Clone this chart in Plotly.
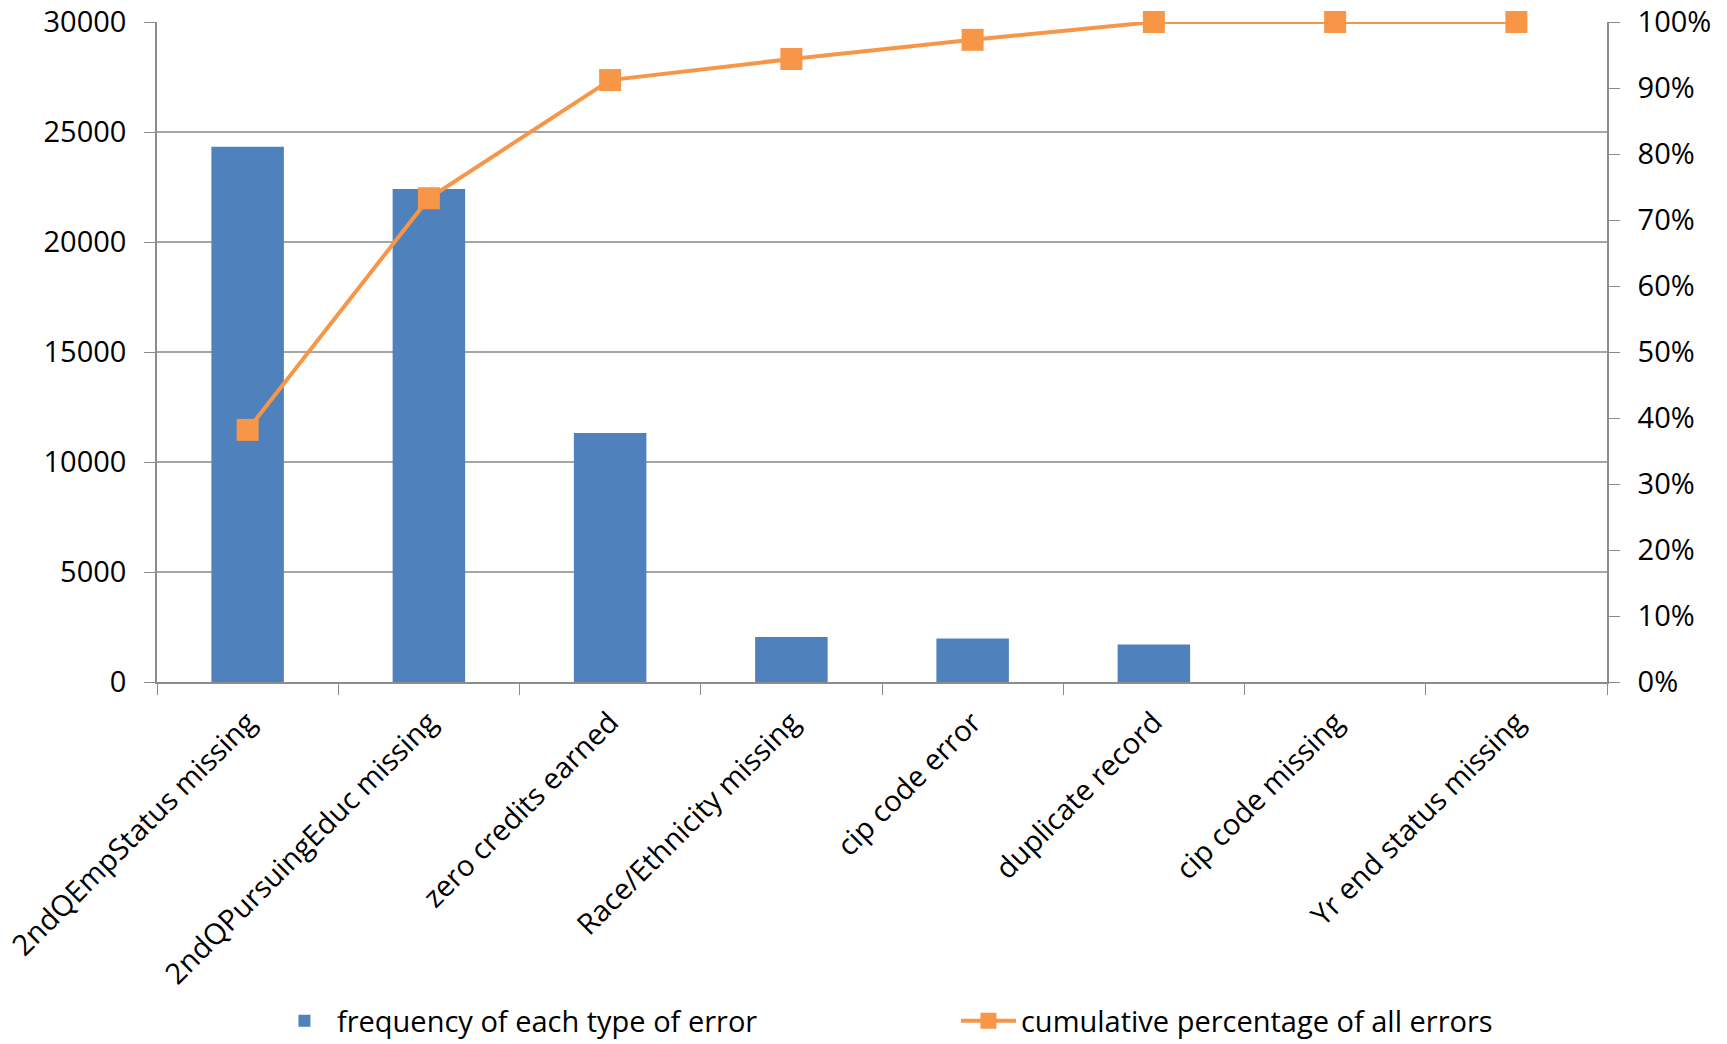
import plotly.graph_objects as go

categories = ["2ndQEmpStatus missing", "2ndQPursuingEduc missing", "zero credits earned",
              "Race/Ethnicity missing", "cip code error", "duplicate record",
              "cip code missing", "Yr end status missing"]
frequency = [24330, 22410, 11320, 2050, 1980, 1710, 0, 0]
cumulative_pct = [38.2, 73.3, 91.2, 94.4, 97.3, 100, 100, 100]

left_ticks = [0, 5000, 10000, 15000, 20000, 25000, 30000]
left_labels = ["0", "5000", "10000", "15000", "20000", "25000", "30000"]
right_ticks = [0, 10, 20, 30, 40, 50, 60, 70, 80, 90, 100]
right_labels = ["0%", "10%", "20%", "30%", "40%", "50%", "60%", "70%", "80%", "90%", "100%"]

BLUE = "#4F81BD"
ORANGE = "#F79646"
GRID = "#A6A6A6"
AXIS = "#8C8C8C"
FONT = "Open Sans"
FS = 29

fig = go.Figure()
fig.add_trace(go.Bar(
    x=categories, y=frequency, name="frequency of each type of error",
    marker=dict(color=BLUE, line=dict(width=0)), yaxis="y"))
fig.add_trace(go.Scatter(
    x=categories, y=cumulative_pct, name="cumulative percentage of all errors",
    mode="lines+markers", line=dict(color=ORANGE, width=4),
    marker=dict(symbol="square", size=22, color=ORANGE), yaxis="y2",
    cliponaxis=False))

# figure is a little taller than the window so the legend box (whose padding
# reaches past the window bottom) does not push the plot margins
fig.update_layout(
    width=1727, height=1058,
    margin=dict(l=157, r=120, t=22, b=372),
    paper_bgcolor="white", plot_bgcolor="white",
    font=dict(family=FONT, size=FS, color="#000000"),
    bargap=0.6,
    showlegend=True,
    legend=dict(orientation="h", x=0.551, xanchor="center",
                y=-0.5136, yanchor="middle", font=dict(size=FS, color="#000000"),
                entrywidth=614, itemwidth=55, traceorder="normal"),
    xaxis=dict(type="category", tickangle=-45, ticks="outside", ticklen=11,
               tickcolor=AXIS, tickson="boundaries", showline=True, linecolor=AXIS,
               linewidth=1.5, showgrid=False, tickfont=dict(size=FS),
               ticklabelstandoff=10, automargin=False, ticklabeloverflow="allow"),
    yaxis=dict(range=[0, 30000], tickvals=left_ticks, ticktext=left_labels,
               ticks="outside", ticklen=11,
               tickcolor=AXIS, showline=True, linecolor=AXIS, linewidth=1.5,
               showgrid=True, gridcolor=GRID, gridwidth=1.5, zeroline=False,
               tickfont=dict(size=FS), ticklabelstandoff=12, automargin=False,
               ticklabeloverflow="allow"),
    yaxis2=dict(range=[0, 100], tickvals=right_ticks, ticktext=right_labels,
                overlaying="y", side="right", ticks="outside", ticklen=11,
                tickcolor=AXIS, showline=True, linecolor=AXIS, linewidth=1.5,
                showgrid=False, zeroline=False, tickfont=dict(size=FS),
                ticklabelstandoff=12, automargin=False, ticklabeloverflow="allow"),
)

# remove the browser's default body margin and scrollbars so the figure fills the window
fig.write_html("out.html", config={"displayModeBar": False},
               post_script="document.body.style.margin='0px';"
                           "document.body.style.overflow='hidden';")
